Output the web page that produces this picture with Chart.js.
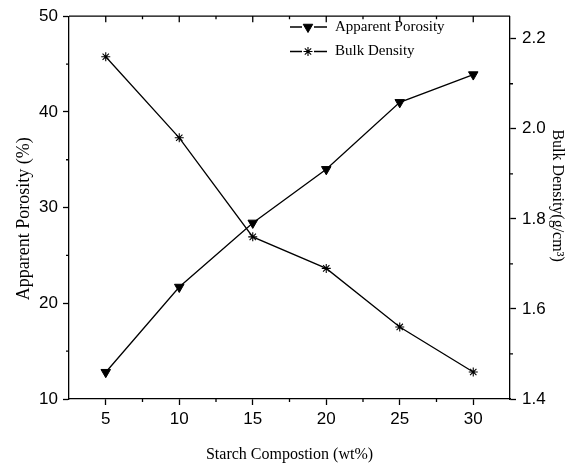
<!DOCTYPE html>
<html>
<head>
<meta charset="utf-8">
<script src="https://cdn.jsdelivr.net/npm/chart.js@4.4.1/dist/chart.umd.min.js"></script>
<style>
  html, body { margin: 0; padding: 0; background: #fff; }
  canvas { display: block; }
</style>
</head>
<body>
<canvas id="Chart-porosity" width="578" height="466"></canvas>
<script>
var starch = [5, 10, 15, 20, 25, 30];
var porosity = [12.8, 21.7, 28.4, 34.0, 41.0, 43.9];
var density = [2.16, 1.98, 1.76, 1.69, 1.56, 1.46];

var xTicks = [5, 10, 15, 20, 25, 30];
var xMinorTicks = [7.5, 12.5, 17.5, 22.5, 27.5];
var porosityTicks = [10, 20, 30, 40, 50];
var porosityMinorTicks = [15, 25, 35, 45];
var densityTicks = [1.4, 1.6, 1.8, 2.0, 2.2];
var densityMinorTicks = [1.5, 1.7, 1.9, 2.1];

var sansFont = 'Liberation Sans, Arial, sans-serif';
var serifFont = 'Liberation Serif, Times New Roman, serif';

function toPoints(ys) {
  return starch.map(function (x, i) { return { x: x, y: ys[i] }; });
}

function fixedTicks(list) {
  return function (scale) {
    scale.ticks = list.map(function (v) { return { value: v }; });
  };
}

// top border, mirrored ticks, minor ticks and the legend box
var framePlugin = {
  id: 'frame',
  afterDraw: function (chart) {
    var ctx = chart.ctx;
    var area = chart.chartArea;
    var x = chart.scales.x, yl = chart.scales.y, yr = chart.scales.y1;
    ctx.save();
    ctx.strokeStyle = '#000';
    ctx.lineWidth = 1.3;
    ctx.beginPath();
    ctx.moveTo(area.left, area.top);
    ctx.lineTo(area.right, area.top);
    xTicks.forEach(function (v) {
      var px = x.getPixelForValue(v);
      ctx.moveTo(px, area.top);
      ctx.lineTo(px, area.top + 6);
    });
    xMinorTicks.forEach(function (v) {
      var px = x.getPixelForValue(v);
      ctx.moveTo(px, area.top);
      ctx.lineTo(px, area.top + 3);
      ctx.moveTo(px, area.bottom);
      ctx.lineTo(px, area.bottom + 3);
    });
    porosityMinorTicks.forEach(function (v) {
      var py = yl.getPixelForValue(v);
      ctx.moveTo(area.left - 3, py);
      ctx.lineTo(area.left, py);
    });
    densityMinorTicks.forEach(function (v) {
      var py = yr.getPixelForValue(v);
      ctx.moveTo(area.right, py);
      ctx.lineTo(area.right + 3, py);
    });
    ctx.stroke();

    // legend
    ctx.font = '15px ' + serifFont;
    ctx.textBaseline = 'middle';
    ctx.textAlign = 'left';
    chart.data.datasets.forEach(function (ds, i) {
      var ly = 27 + i * 24.5;
      ctx.strokeStyle = '#000';
      ctx.lineWidth = 1.3;
      ctx.beginPath();
      ctx.moveTo(290, ly);
      ctx.lineTo(302, ly);
      ctx.moveTo(314, ly);
      ctx.lineTo(327, ly);
      ctx.stroke();
      ctx.fillStyle = '#000';
      ctx.lineWidth = ds.pointBorderWidth;
      Chart.helpers.drawPoint(ctx, {
        pointStyle: ds.pointStyle,
        radius: ds.pointRadius,
        rotation: ds.pointRotation || 0,
        borderWidth: ds.pointBorderWidth
      }, 308, ly);
      ctx.fillStyle = '#000';
      ctx.fillText(ds.label, 335, ly);
    });
    ctx.restore();
  }
};

function createPorosityChart() {
  var ctx = document.getElementById('Chart-porosity').getContext('2d');
  var grid = { drawOnChartArea: false, tickLength: 6, tickColor: '#000', tickWidth: 1.3 };
  var border = { color: '#000', width: 1.3 };
  var tickFont = { family: sansFont, size: 17 };

  return new Chart(ctx, {
    type: 'line',
    data: {
      datasets: [{
        label: 'Apparent Porosity',
        data: toPoints(porosity),
        yAxisID: 'y',
        borderColor: '#000',
        backgroundColor: '#000',
        borderWidth: 1.3,
        pointStyle: 'triangle',
        pointRotation: 180,
        pointRadius: 5.5,
        pointBorderWidth: 1,
        pointBackgroundColor: '#000',
        pointBorderColor: '#000'
      }, {
        label: 'Bulk Density',
        data: toPoints(density),
        yAxisID: 'y1',
        borderColor: '#000',
        backgroundColor: '#000',
        borderWidth: 1.3,
        pointStyle: 'star',
        pointRadius: 4.5,
        pointBorderWidth: 1.1,
        pointBackgroundColor: '#000',
        pointBorderColor: '#000'
      }]
    },
    options: {
      responsive: false,
      animation: false,
      layout: { padding: { top: 15, left: 0, right: 0, bottom: 0 } },
      plugins: {
        legend: { display: false },
        tooltip: { enabled: false }
      },
      scales: {
        x: {
          type: 'linear',
          position: 'bottom',
          min: 2.5,
          max: 32.5,
          afterBuildTicks: fixedTicks(xTicks),
          afterFit: function (s) { s.height = 67; },
          grid: grid,
          border: border,
          ticks: { font: tickFont, color: '#000', padding: 4, autoSkip: false, maxRotation: 0 },
          title: {
            display: true,
            text: 'Starch Compostion (wt%)',
            font: { family: serifFont, size: 16 },
            color: '#000',
            padding: { top: 0, bottom: 2 }
          }
        },
        y: {
          type: 'linear',
          position: 'left',
          min: 10,
          max: 50,
          afterBuildTicks: fixedTicks(porosityTicks),
          afterFit: function (s) { s.width = 69; },
          grid: grid,
          border: border,
          ticks: { font: tickFont, color: '#000', padding: 5, autoSkip: false },
          title: {
            display: true,
            text: 'Apparent Porosity (%)     ',
            font: { family: serifFont, size: 18 },
            color: '#000',
            padding: { top: 13, bottom: 0 }
          }
        },
        y1: {
          type: 'linear',
          position: 'right',
          min: 1.4,
          max: 2.25,
          afterBuildTicks: fixedTicks(densityTicks),
          afterFit: function (s) { s.width = 68; },
          grid: grid,
          border: border,
          ticks: {
            font: tickFont, color: '#000', padding: 6, autoSkip: false,
            callback: function (v) { return v.toFixed(1); }
          },
          title: {
            display: true,
            text: 'Bulk Density(g/cm\u00B3)      ',
            font: { family: serifFont, size: 16 },
            color: '#000',
            padding: { top: 11, bottom: 0 }
          }
        }
      }
    },
    plugins: [framePlugin]
  });
}

createPorosityChart();
</script>
</body>
</html>
